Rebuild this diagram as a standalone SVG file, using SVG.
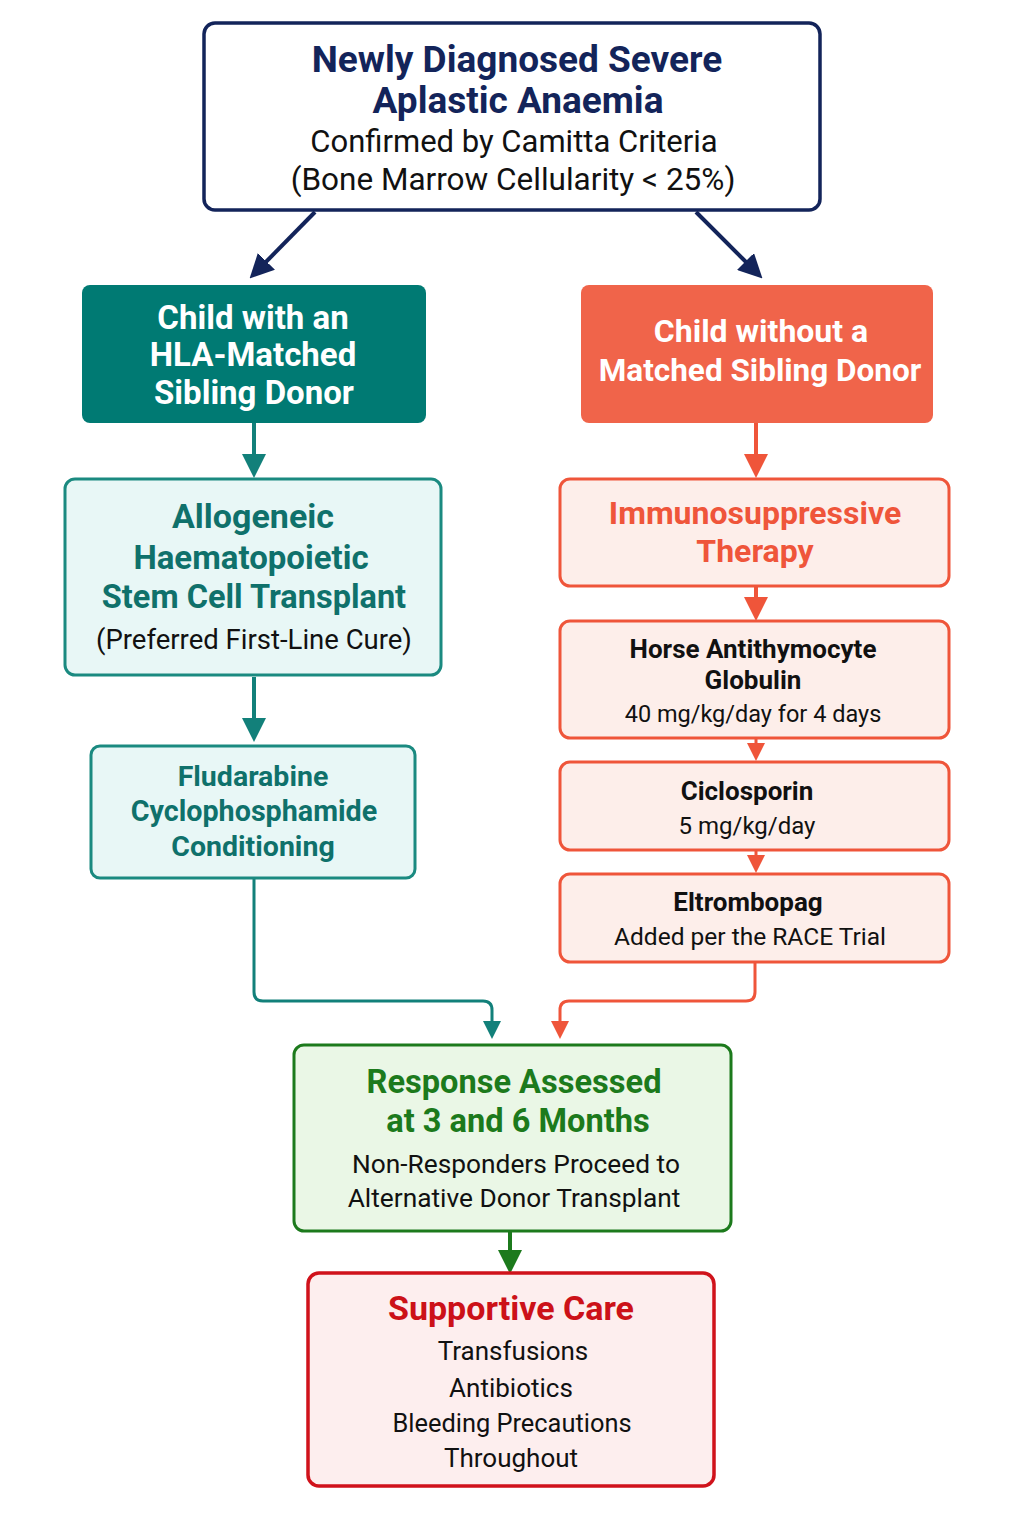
<svg xmlns="http://www.w3.org/2000/svg" width="1024" height="1536" viewBox="0 0 1024 1536">
<defs>
<style>
text{font-family:Roboto,"Liberation Sans",sans-serif;text-anchor:middle}
.b{font-weight:700}
.navy{fill:#13245a}
.blk{fill:#111}
.wht{fill:#fff}
.teal{fill:#0f716b}
.org{fill:#ef553a}
.grn{fill:#1c7a1c}
.red{fill:#cc1118}
</style>
<marker id="aN" viewBox="0 0 10 10" refX="5" refY="5" markerWidth="6" markerHeight="6" orient="auto" markerUnits="strokeWidth"><path d="M0,0L10,5L0,10z" fill="#13245a"/></marker>
<marker id="aT" viewBox="0 0 10 10" refX="5" refY="5" markerWidth="6" markerHeight="6" orient="auto" markerUnits="strokeWidth"><path d="M0,0L10,5L0,10z" fill="#12807a"/></marker>
<marker id="aO" viewBox="0 0 10 10" refX="5" refY="5" markerWidth="6" markerHeight="6" orient="auto" markerUnits="strokeWidth"><path d="M0,0L10,5L0,10z" fill="#ef553a"/></marker>
<marker id="aG" viewBox="0 0 10 10" refX="5" refY="5" markerWidth="6" markerHeight="6" orient="auto" markerUnits="strokeWidth"><path d="M0,0L10,5L0,10z" fill="#1c7a1c"/></marker>
</defs>
<rect width="1024" height="1536" fill="#fff"/>
<g id="connectors" fill="none">
<path d="M315,212L258,270" stroke="#13245a" stroke-width="4" marker-end="url(#aN)"/>
<path d="M696,212L754,270" stroke="#13245a" stroke-width="4" marker-end="url(#aN)"/>
<path d="M254,423V466" stroke="#12807a" stroke-width="4" marker-end="url(#aT)"/>
<path d="M756,423V466" stroke="#ef553a" stroke-width="4" marker-end="url(#aO)"/>
<path d="M254,677V730" stroke="#12807a" stroke-width="4" marker-end="url(#aT)"/>
<path d="M756,587V609" stroke="#ef553a" stroke-width="4" marker-end="url(#aO)"/>
<path d="M756,739V752" stroke="#ef553a" stroke-width="3" marker-end="url(#aO)"/>
<path d="M756,851V864" stroke="#ef553a" stroke-width="3" marker-end="url(#aO)"/>
<path d="M254,879V992Q254,1001 263,1001H483Q492,1001 492,1010V1030" stroke="#12807a" stroke-width="3" marker-end="url(#aT)"/>
<path d="M755,963V992Q755,1001 746,1001H569Q560,1001 560,1010V1030" stroke="#ef553a" stroke-width="3" marker-end="url(#aO)"/>
<path d="M510,1232V1262" stroke="#1c7a1c" stroke-width="4" marker-end="url(#aG)"/>
</g>
<g id="n1">
<rect x="204" y="23" width="616" height="187" rx="11" fill="#fff" stroke="#13245a" stroke-width="3.5"/>
<text x="517" y="72" class="b navy" font-size="37">Newly Diagnosed Severe</text>
<text x="518" y="113" class="b navy" font-size="37">Aplastic Anaemia</text>
<text x="514" y="152" class="blk" font-size="31">Confirmed by Camitta Criteria</text>
<text x="513" y="190" class="blk" font-size="31.5">(Bone Marrow Cellularity &lt; 25%)</text>
</g>
<g id="n2">
<rect x="82" y="285" width="344" height="138" rx="8" fill="#007a73"/>
<text x="253" y="329" class="b wht" font-size="33">Child with an</text>
<text x="253" y="366" class="b wht" font-size="33">HLA-Matched</text>
<text x="254" y="404" class="b wht" font-size="33">Sibling Donor</text>
</g>
<g id="n3">
<rect x="581" y="285" width="352" height="138" rx="8" fill="#f0644a"/>
<text x="761" y="342" class="b wht" font-size="32">Child without a</text>
<text x="760" y="381" class="b wht" font-size="31.5">Matched Sibling Donor</text>
</g>
<g id="n4">
<rect x="65" y="479" width="376" height="196" rx="10" fill="#e8f7f6" stroke="#1a8a80" stroke-width="3"/>
<text x="253" y="528" class="b teal" font-size="34">Allogeneic</text>
<text x="251" y="569" class="b teal" font-size="33">Haematopoietic</text>
<text x="254" y="608" class="b teal" font-size="32.5">Stem Cell Transplant</text>
<text x="254" y="649" class="blk" font-size="27.5">(Preferred First-Line Cure)</text>
</g>
<g id="n5">
<rect x="91" y="746" width="324" height="132" rx="9" fill="#e8f7f6" stroke="#1a8a80" stroke-width="3"/>
<text x="253" y="786" class="b teal" font-size="28.5">Fludarabine</text>
<text x="254" y="821" class="b teal" font-size="28.7">Cyclophosphamide</text>
<text x="253" y="856" class="b teal" font-size="28.5">Conditioning</text>
</g>
<g id="n6">
<rect x="560" y="479" width="389" height="107" rx="10" fill="#fdeeea" stroke="#ef553a" stroke-width="3"/>
<text x="755" y="524" class="b org" font-size="32">Immunosuppressive</text>
<text x="755" y="562" class="b org" font-size="32">Therapy</text>
</g>
<g id="n7">
<rect x="560" y="621" width="389" height="117" rx="10" fill="#fdeeea" stroke="#ef553a" stroke-width="3"/>
<text x="753" y="658" class="b blk" font-size="26">Horse Antithymocyte</text>
<text x="753" y="689" class="b blk" font-size="26">Globulin</text>
<text x="753" y="722" class="blk" font-size="23.5">40 mg/kg/day for 4 days</text>
</g>
<g id="n8">
<rect x="560" y="762" width="389" height="88" rx="10" fill="#fdeeea" stroke="#ef553a" stroke-width="3"/>
<text x="747" y="800" class="b blk" font-size="26">Ciclosporin</text>
<text x="747" y="834" class="blk" font-size="24">5 mg/kg/day</text>
</g>
<g id="n9">
<rect x="560" y="874" width="389" height="88" rx="10" fill="#fdeeea" stroke="#ef553a" stroke-width="3"/>
<text x="748" y="911" class="b blk" font-size="26">Eltrombopag</text>
<text x="750" y="945" class="blk" font-size="24.5">Added per the RACE Trial</text>
</g>
<g id="n10">
<rect x="294" y="1045" width="437" height="186" rx="10" fill="#eaf7e6" stroke="#1c7a1c" stroke-width="3"/>
<text x="514" y="1093" class="b grn" font-size="32.6">Response Assessed</text>
<text x="518" y="1132" class="b grn" font-size="32.6">at 3 and 6 Months</text>
<text x="516" y="1173" class="blk" font-size="26.3">Non-Responders Proceed to</text>
<text x="514" y="1207" class="blk" font-size="26.3">Alternative Donor Transplant</text>
</g>
<g id="n11">
<rect x="308" y="1273" width="406" height="213" rx="11" fill="#fdeeee" stroke="#d0121b" stroke-width="3.5"/>
<text x="511" y="1320" class="b red" font-size="34">Supportive Care</text>
<text x="513" y="1360" class="blk" font-size="26">Transfusions</text>
<text x="511" y="1397" class="blk" font-size="26">Antibiotics</text>
<text x="512" y="1432" class="blk" font-size="25.4">Bleeding Precautions</text>
<text x="511" y="1467" class="blk" font-size="26">Throughout</text>
</g>
</svg>
